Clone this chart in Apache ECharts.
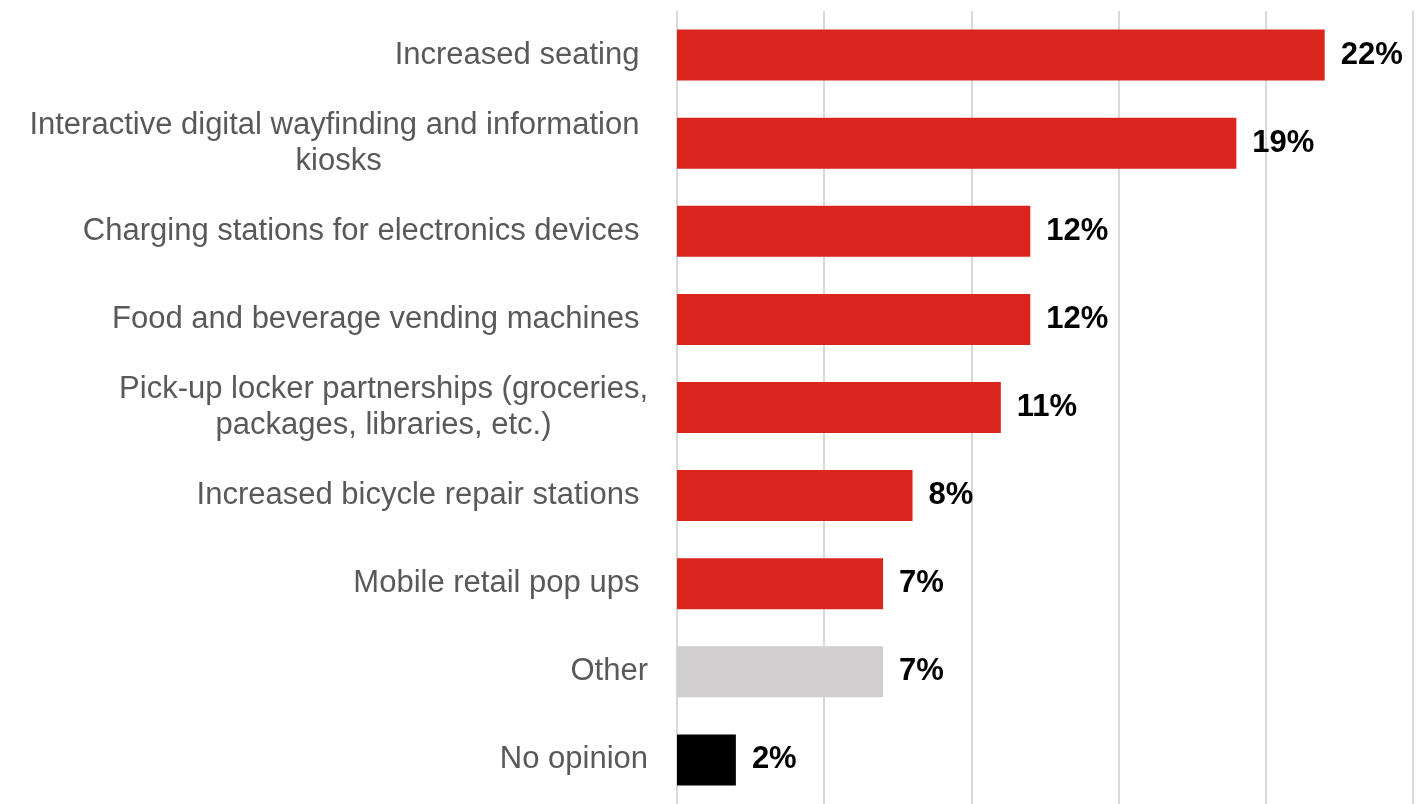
<!DOCTYPE html>
<html>
<head>
<meta charset="utf-8">
<script src="https://cdn.jsdelivr.net/npm/echarts@6/dist/echarts.min.js"></script>
<style>
  html, body { margin: 0; padding: 0; background: #ffffff; }
  #chart { width: 1418px; height: 804px; }
</style>
</head>
<body>
<div id="chart"></div>
<script>
// Survey answers (top to bottom) and share of respondents, in percent
const categories = [
  'Increased seating ',
  'Interactive digital wayfinding and information \nkiosks',
  'Charging stations for electronics devices ',
  'Food and beverage vending machines ',
  'Pick-up locker partnerships (groceries,\npackages, libraries, etc.)',
  'Increased bicycle repair stations ',
  'Mobile retail pop ups ',
  'Other',
  'No opinion'
];
const values = [22, 19, 12, 12, 11, 8, 7, 7, 2];
const xTicks = [0, 5, 10, 15, 20, 25];

const RED = '#DA251E';
const GREY = '#D0CECE';
const BLACK = '#000000';

function barColor(name) {
  if (name === 'Other') return GREY;
  if (name === 'No opinion') return BLACK;
  return RED;
}

const chart = echarts.init(document.getElementById('chart'), null, { renderer: 'canvas' });

chart.setOption({
  animation: false,
  backgroundColor: '#ffffff',
  grid: { left: 677, right: 5, top: 11, height: 798, containLabel: false },
  xAxis: {
    type: 'value',
    min: xTicks[0],
    max: xTicks[xTicks.length - 1],
    interval: xTicks[1] - xTicks[0],
    axisLabel: { show: false },
    axisLine: { show: false },
    axisTick: { show: false },
    splitLine: { show: true, lineStyle: { color: '#D9D9D9', width: 2 } }
  },
  yAxis: {
    type: 'category',
    inverse: true,
    data: categories,
    axisLine: { show: false },
    axisTick: { show: false },
    axisLabel: {
      margin: 29,
      formatter: function (v) {
        return v.split('\n').map(function (line) { return '{c|' + line + '}'; }).join('\n');
      },
      rich: {
        c: {
          align: 'center',
          fontFamily: '"Liberation Sans", Arial, sans-serif',
          fontSize: 31,
          lineHeight: 36,
          color: '#595959'
        }
      }
    }
  },
  series: [{
    type: 'bar',
    data: values,
    barWidth: 51,
    itemStyle: {
      color: function (p) { return barColor(p.name); }
    },
    label: {
      show: true,
      position: 'right',
      distance: 16,
      formatter: '{c}%',
      fontFamily: '"Liberation Sans", Arial, sans-serif',
      fontSize: 31,
      fontWeight: 'bold',
      color: '#000000'
    }
  }]
});
</script>
</body>
</html>
